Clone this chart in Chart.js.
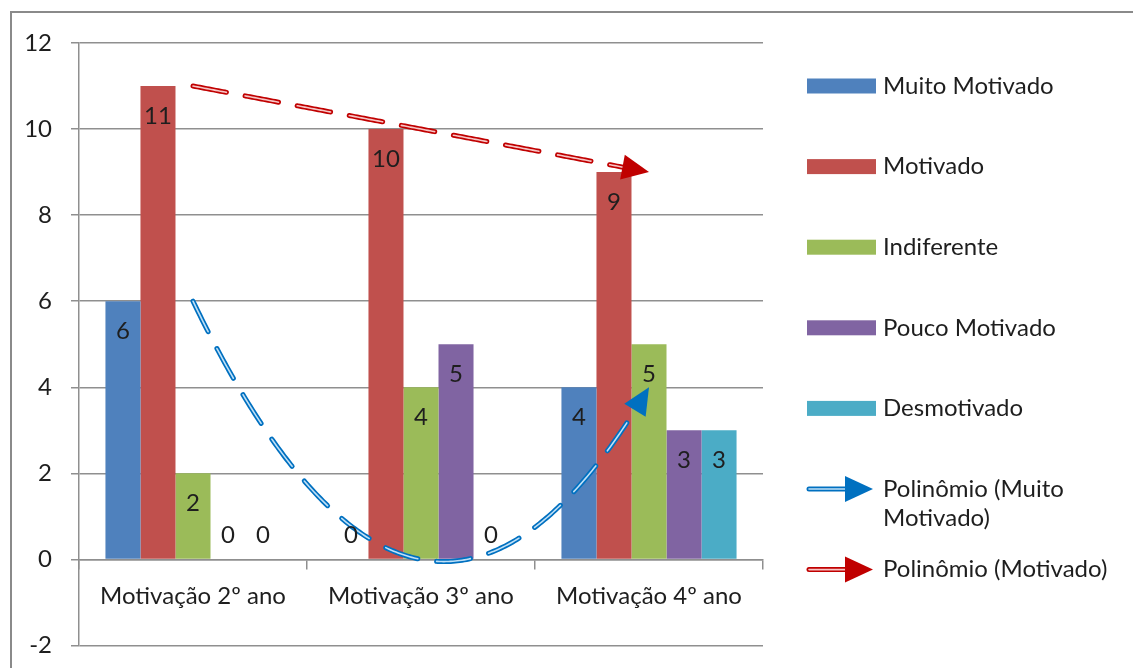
<!DOCTYPE html>
<html>
<head>
<meta charset="utf-8">
<script src="https://cdn.jsdelivr.net/npm/chart.js@4"></script>
<style>
  html, body { margin: 0; padding: 0; background: #ffffff; }
  #wrap { width: 1133px; height: 668px; }
</style>
</head>
<body>
<div id="wrap"><canvas id="chart" width="1133" height="668"></canvas></div>
<script>
// Categories and series
const categories = ['Motivação 2º ano', 'Motivação 3º ano', 'Motivação 4º ano'];
const muitoMotivado = [6, 0, 4];
const motivado = [11, 10, 9];
const indiferente = [2, 4, 5];
const poucoMotivado = [0, 5, 3];
const desmotivado = [0, 0, 3];

const seriesNames = ['Muito Motivado', 'Motivado', 'Indiferente', 'Pouco Motivado', 'Desmotivado'];
const seriesValues = [muitoMotivado, motivado, indiferente, poucoMotivado, desmotivado];
const seriesColors = ['#4F81BD', '#C0504D', '#9BBB59', '#8064A2', '#4BACC6'];

// Value axis
const yMin = -2;
const yMax = 12;
const yStep = 2;

// Polynomial (order 2) trendlines: source series index, legend lines, colours
const trendSources = [0, 1];
const trendLabels = [['Polinômio (Muito', 'Motivado)'], ['Polinômio (Motivado)']];
const trendColors = ['#0070C0', '#C00000'];
const trendInner = ['#bfe0f7', '#f7c6c6'];

const FONT_FAMILY = 'Lato, "Open Sans", sans-serif';
const FONT_SIZE = 24;
const TEXT_COLOR = '#1e1e1e';
const GRID_COLOR = '#8f8f8f';

// Least-squares fit of a polynomial of the given order; x = category index
function polyFit(values, order) {
  const n = order + 1;
  const A = [];
  for (let r = 0; r < n; r++) {
    A.push(new Array(n + 1).fill(0));
  }
  values.forEach((v, i) => {
    for (let r = 0; r < n; r++) {
      for (let c = 0; c < n; c++) A[r][c] += Math.pow(i, r + c);
      A[r][n] += v * Math.pow(i, r);
    }
  });
  for (let col = 0; col < n; col++) {
    let piv = col;
    for (let r = col + 1; r < n; r++) if (Math.abs(A[r][col]) > Math.abs(A[piv][col])) piv = r;
    [A[col], A[piv]] = [A[piv], A[col]];
    for (let r = 0; r < n; r++) {
      if (r === col) continue;
      const f = A[r][col] / A[col][col];
      for (let c = col; c <= n; c++) A[r][c] -= f * A[col][c];
    }
  }
  return A.map((row, i) => row[n] / row[i]);
}
function polyEval(coef, x) {
  return coef.reduce((s, c, i) => s + c * Math.pow(x, i), 0);
}

function drawArrowHead(ctx, tipX, tipY, angle, len, halfW, color) {
  ctx.save();
  ctx.translate(tipX, tipY);
  ctx.rotate(angle);
  ctx.beginPath();
  ctx.moveTo(0, 0);
  ctx.lineTo(-len, -halfW);
  ctx.lineTo(-len, halfW);
  ctx.closePath();
  ctx.fillStyle = color;
  ctx.fill();
  ctx.restore();
}

// Stroke a path twice: thick coloured line with a thin light core
function strokeDouble(ctx, buildPath, color, inner, dash) {
  ctx.save();
  ctx.lineCap = 'round';
  ctx.lineJoin = 'round';
  ctx.setLineDash(dash);
  buildPath();
  ctx.strokeStyle = color;
  ctx.lineWidth = 5;
  ctx.stroke();
  buildPath();
  ctx.strokeStyle = inner;
  ctx.lineWidth = 1.6;
  ctx.stroke();
  ctx.restore();
}

const frameAndBackground = {
  id: 'frameAndBackground',
  beforeDraw(chart) {
    const ctx = chart.ctx;
    ctx.save();
    ctx.fillStyle = '#ffffff';
    ctx.fillRect(0, 0, chart.width, chart.height);
    ctx.strokeStyle = '#8a8a8a';
    ctx.lineWidth = 2;
    ctx.strokeRect(11, 12, chart.width + 20, chart.height + 20);
    ctx.restore();
  }
};

const trendlines = {
  id: 'trendlines',
  afterDatasetsDraw(chart) {
    const ctx = chart.ctx;
    const xs = chart.scales.x;
    const ys = chart.scales.y;
    trendSources.forEach((src, t) => {
      const coef = polyFit(seriesValues[src], 2);
      const last = seriesValues[src].length - 1;
      const pts = [];
      const steps = 200;
      for (let k = 0; k <= steps; k++) {
        const xv = last * k / steps;
        pts.push([xs.getPixelForValue(xv), ys.getPixelForValue(polyEval(coef, xv))]);
      }
      // stop the stroke where the arrow head begins
      const arrowLen = 27;
      const tip = pts[pts.length - 1];
      let cut = pts.length - 1;
      while (cut > 0 && Math.hypot(pts[cut][0] - tip[0], pts[cut][1] - tip[1]) < arrowLen - 2) cut--;
      const body = pts.slice(0, cut + 1);
      strokeDouble(ctx, () => {
        ctx.beginPath();
        body.forEach((p, i) => (i ? ctx.lineTo(p[0], p[1]) : ctx.moveTo(p[0], p[1])));
      }, trendColors[t], trendInner[t], [34, 19]);
      const prev = pts[cut];
      const ang = Math.atan2(tip[1] - prev[1], tip[0] - prev[0]);
      drawArrowHead(ctx, tip[0], tip[1], ang, arrowLen, 12.5, trendColors[t]);
    });
  }
};

const valueLabels = {
  id: 'valueLabels',
  afterDatasetsDraw(chart) {
    const ctx = chart.ctx;
    const ys = chart.scales.y;
    ctx.save();
    ctx.font = FONT_SIZE + 'px ' + FONT_FAMILY;
    ctx.fillStyle = TEXT_COLOR;
    ctx.textAlign = 'center';
    ctx.textBaseline = 'middle';
    chart.data.datasets.forEach((ds, di) => {
      const meta = chart.getDatasetMeta(di);
      meta.data.forEach((bar, i) => {
        const v = ds.data[i];
        const y = v > 0 ? ys.getPixelForValue(v) + 30 : ys.getPixelForValue(0) - 24;
        ctx.fillText(String(v), bar.x, y);
      });
    });
    ctx.restore();
  }
};

const sideLegend = {
  id: 'sideLegend',
  afterDraw(chart) {
    const ctx = chart.ctx;
    const boxX = 807, boxW = 69, boxH = 15, textX = 883;
    const top = 86, gap = 80.6, lineH = 29;
    ctx.save();
    ctx.font = FONT_SIZE + 'px ' + FONT_FAMILY;
    ctx.fillStyle = TEXT_COLOR;
    ctx.textAlign = 'left';
    ctx.textBaseline = 'middle';
    seriesNames.forEach((name, i) => {
      const cy = top + gap * i;
      ctx.fillStyle = seriesColors[i];
      ctx.fillRect(boxX, cy - boxH / 2, boxW, boxH);
      ctx.fillStyle = TEXT_COLOR;
      ctx.fillText(name, textX, cy);
    });
    trendLabels.forEach((lines, t) => {
      const cy = top + gap * (seriesNames.length + t);
      strokeDouble(ctx, () => {
        ctx.beginPath();
        ctx.moveTo(boxX + 2, cy);
        ctx.lineTo(boxX + 44, cy);
      }, trendColors[t], trendInner[t], []);
      drawArrowHead(ctx, boxX + 66, cy, 0, 28, 13, trendColors[t]);
      ctx.fillStyle = TEXT_COLOR;
      lines.forEach((ln, k) => ctx.fillText(ln, textX, cy + k * lineH));
    });
    ctx.restore();
  }
};

const tickFont = { family: FONT_FAMILY, size: FONT_SIZE };

new Chart(document.getElementById('chart'), {
  type: 'bar',
  data: {
    labels: categories,
    datasets: seriesNames.map((name, i) => ({
      label: name,
      data: seriesValues[i],
      backgroundColor: seriesColors[i],
      borderWidth: 0,
      barPercentage: 1,
      categoryPercentage: 0.768
    }))
  },
  options: {
    responsive: false,
    animation: false,
    devicePixelRatio: 1,
    layout: { padding: { top: 43, right: 370, bottom: 22.5, left: 0 } },
    plugins: { legend: { display: false }, tooltip: { enabled: false } },
    scales: {
      x: {
        position: { y: 0 },
        grid: { drawOnChartArea: false, offset: true, tickLength: 9, color: GRID_COLOR, lineWidth: 1.5 },
        border: { color: GRID_COLOR, width: 1.5 },
        ticks: { font: tickFont, color: TEXT_COLOR, padding: 13, maxRotation: 0 },
        afterFit(scale) { scale.height = 0; }
      },
      y: {
        min: yMin,
        max: yMax,
        ticks: { stepSize: yStep, font: tickFont, color: TEXT_COLOR, padding: 19 },
        grid: { color: GRID_COLOR, lineWidth: 1.5, tickLength: 8 },
        border: { color: GRID_COLOR, width: 1.5 },
        afterFit(scale) {
          scale.width = 79;
          scale.paddingTop = 0;
          scale.paddingBottom = 0;
        }
      }
    }
  },
  plugins: [frameAndBackground, trendlines, valueLabels, sideLegend]
});
</script>
</body>
</html>
